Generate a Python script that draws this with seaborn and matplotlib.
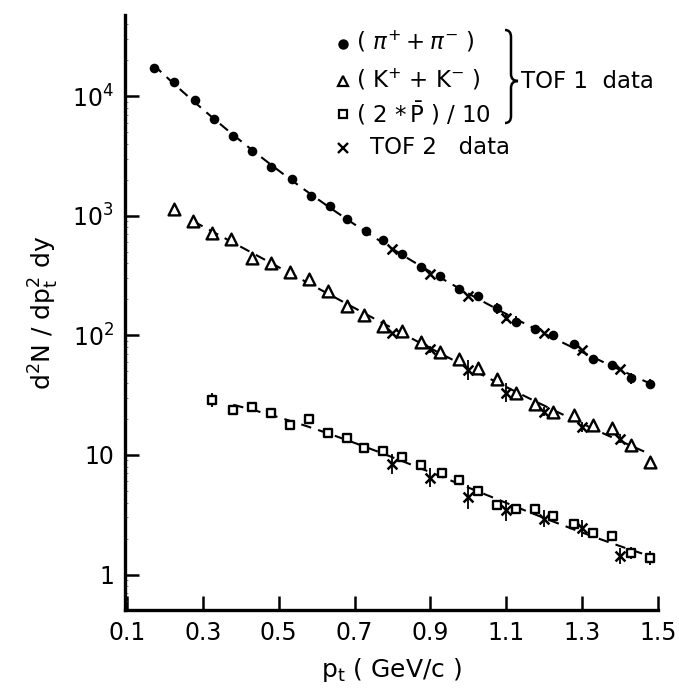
import numpy as np
import pandas as pd
import matplotlib
matplotlib.use("Agg")
import matplotlib.pyplot as plt
from matplotlib.path import Path
from matplotlib.patches import PathPatch
import seaborn as sns

# ---- TOF1 spectra ----
pion_pt = [0.17, 0.225, 0.28, 0.33, 0.38, 0.43, 0.48, 0.535, 0.585, 0.635,
           0.68, 0.73, 0.775, 0.825, 0.875, 0.925, 0.975, 1.025, 1.075, 1.125,
           1.175, 1.225, 1.28, 1.33, 1.38, 1.43, 1.48]
pion_y = [17300, 13100, 9230, 6400, 4670, 3490, 2540, 2040, 1460, 1210,
          938, 750, 626, 478, 370, 313, 243, 213, 168, 130,
          114, 101, 84, 63.4, 56.5, 43.7, 39.2]
pion_err = [0, 0, 0, 0, 0, 0, 0, 0, 0, 0,
            0, 0, 0, 0, 0, 0, 0, 0, 0.045, 0.045,
            0, 0, 0, 0, 0, 0.045, 0.045]

kaon_pt = [0.225, 0.275, 0.325, 0.375, 0.43, 0.48, 0.53, 0.58, 0.63, 0.68,
           0.725, 0.775, 0.825, 0.875, 0.925, 0.975, 1.025, 1.075, 1.125, 1.175,
           1.225, 1.28, 1.33, 1.38, 1.43, 1.48]
kaon_y = [1130, 903, 713, 639, 445, 405, 340, 296, 235, 177,
          148, 120, 109, 88.4, 72.1, 63, 53.6, 42.9, 33.1, 26.5,
          23, 21.4, 17.8, 16.9, 12.1, 8.67]
kaon_err = [0] * 24 + [0.04, 0.04]

pbar_pt = [0.325, 0.38, 0.43, 0.48, 0.53, 0.58, 0.63, 0.68, 0.725, 0.775,
           0.825, 0.875, 0.93, 0.975, 1.025, 1.075, 1.125, 1.175, 1.225, 1.28,
           1.33, 1.38, 1.43, 1.48]
pbar_y = [28.8, 23.7, 25.3, 22.3, 17.8, 20.0, 15.2, 13.8, 11.4, 10.8,
          9.66, 8.24, 7.02, 6.17, 4.99, 3.81, 3.53, 3.53, 3.10, 2.64,
          2.24, 2.10, 1.50, 1.38]
pbar_err = [0.06, 0.035, 0.035, 0.035, 0.035, 0.045, 0.035, 0.035, 0.035, 0.035,
            0.035, 0.035, 0.035, 0.035, 0.035, 0.035, 0.035, 0.035, 0.035, 0.035,
            0.035, 0.04, 0.05, 0.06]

# ---- TOF2 spectra ----
tof2_pt = [0.8, 0.9, 1.0, 1.1, 1.2, 1.3, 1.4]
tof2_pion_y = [524, 324, 213, 140, 104, 75.4, 52.3]
tof2_pion_err = [0, 0, 0, 0.03, 0, 0, 0]
tof2_kaon_y = [105, 76.4, 51.3, 33.1, 23.0, 17.2, 13.7]
tof2_kaon_err = [0, 0.03, 0.08, 0.08, 0.04, 0.04, 0.04]
tof2_pbar_y = [8.4, 6.45, 4.42, 3.44, 2.92, 2.43, 1.43]
tof2_pbar_err = [0.08, 0.08, 0.1, 0.09, 0.07, 0.07, 0.07]

x_ticks = [0.1, 0.3, 0.5, 0.7, 0.9, 1.1, 1.3, 1.5]
x_tick_labels = ["0.1", "0.3", "0.5", "0.7", "0.9", "1.1", "1.3", "1.5"]
y_ticks = [1, 10, 100, 1000, 10000]
y_tick_labels = ["1", "10", r"10$^{2}$", r"10$^{3}$", r"10$^{4}$"]

sns.set_style("ticks")
plt.rcParams["font.family"] = ["DejaVu Sans"]
plt.rcParams["mathtext.fontset"] = "dejavusans"
plt.rcParams["text.color"] = "black"
plt.rcParams["axes.labelcolor"] = "black"

W, H = 679, 699
fig = plt.figure(figsize=(W / 100, H / 100), dpi=100)
ax = fig.add_axes([125 / W, 1 - 610 / H, (657.7 - 125) / W, (610 - 15) / H])
ax.set_yscale("log")
ax.set_xlim(0.1 - (127.1 - 125) / 378, 1.5)
ax.set_ylim(0.505, 4.77e4)


def frame(pt, y, err):
    return pd.DataFrame({"pt": pt, "y": y, "err": err})


tof1 = {"pion": frame(pion_pt, pion_y, pion_err),
        "kaon": frame(kaon_pt, kaon_y, kaon_err),
        "pbar": frame(pbar_pt, pbar_y, pbar_err)}
tof2 = {"pion": frame(tof2_pt, tof2_pion_y, tof2_pion_err),
        "kaon": frame(tof2_pt, tof2_kaon_y, tof2_kaon_err),
        "pbar": frame(tof2_pt, tof2_pbar_y, tof2_pbar_err)}

# smooth fits through both data sets (cubic in log space)
fit_start = {"pion": 0.17, "kaon": 0.275, "pbar": 0.38}
for key in ["pion", "kaon", "pbar"]:
    both = pd.concat([tof1[key], tof2[key]])
    both = both[both.pt >= fit_start[key] - 1e-6]
    coef = np.polyfit(both.pt, np.log10(both.y), 3)
    xs = np.linspace(both.pt.min(), both.pt.max(), 200)
    fit = pd.DataFrame({"pt": xs, "y": 10 ** np.polyval(coef, xs)})
    sns.lineplot(data=fit, x="pt", y="y", ax=ax, color="black", lw=1.5,
                 dashes=False, linestyle=(0, (5, 3.5)), zorder=1)


def draw_err(df):
    sel = df[df.err > 0]
    lo = sel.y - sel.y * 10 ** (-sel.err)
    hi = sel.y * 10 ** (sel.err) - sel.y
    ax.errorbar(sel.pt, sel.y, yerr=[lo, hi], fmt="none", ecolor="black",
                elinewidth=1.3, capsize=0, zorder=2)


for df in list(tof1.values()) + list(tof2.values()):
    draw_err(df)

sns.scatterplot(data=tof1["pion"], x="pt", y="y", ax=ax, marker="o", s=48,
                color="black", edgecolor="black", linewidth=0, zorder=3)
sns.scatterplot(data=tof1["kaon"], x="pt", y="y", ax=ax, marker="^", s=72,
                facecolor="white", edgecolor="black", linewidth=1.7, zorder=3)
sns.scatterplot(data=tof1["pbar"], x="pt", y="y", ax=ax, marker="s", s=40,
                facecolor="white", edgecolor="black", linewidth=1.7, zorder=3)
for key in ["pion", "kaon", "pbar"]:
    sns.scatterplot(data=tof2[key], x="pt", y="y", ax=ax, marker="x", s=50,
                    color="black", linewidth=1.8, zorder=3)

ax.set_xticks(x_ticks)
ax.set_xticklabels(x_tick_labels)
ax.set_yticks(y_ticks)
ax.set_yticklabels(y_tick_labels)
ax.yaxis.set_minor_locator(matplotlib.ticker.LogLocator(base=10, subs=np.arange(2, 10)))
ax.yaxis.set_minor_formatter(matplotlib.ticker.NullFormatter())
ax.tick_params(axis="both", which="major", direction="in", length=10, width=1.8,
               labelsize=17, colors="black", pad=8)
ax.tick_params(axis="y", which="minor", direction="in", length=2.5, width=0.5,
               colors="#555555")
ax.tick_params(axis="x", which="minor", bottom=False)
sns.despine(ax=ax, top=True, right=True)
for side in ["left", "bottom"]:
    ax.spines[side].set_linewidth(2.4)
    ax.spines[side].set_color("black")

ax.set_xlabel(r"p$_{\mathsf{t}}$ ( GeV/c )", fontsize=18, labelpad=8)
ax.set_ylabel(r"d$^{2}$N / dp$_{\mathsf{t}}^{2}$ dy", fontsize=18, labelpad=8)


def px(x, y):
    return x / W, 1 - y / H


# legend block
leg_size = 16.5
fig.add_artist(plt.Line2D([343 / W], [1 - 44 / H], marker="o", ms=6.5, color="black",
                          transform=fig.transFigure))
fig.text(*px(356, 42), r"$(\ \pi^{+} + \pi^{-}\ )$", fontsize=leg_size, va="center")
fig.add_artist(plt.Line2D([343 / W], [1 - 81 / H], marker="^", ms=7.5, mfc="white",
                          mec="black", mew=1.6, transform=fig.transFigure))
fig.text(*px(356, 80), r"( K$^{+}$ + K$^{-}$ )", fontsize=leg_size, va="center")
fig.add_artist(plt.Line2D([343 / W], [1 - 114 / H], marker="s", ms=6, mfc="white",
                          mec="black", mew=1.6, transform=fig.transFigure))
fig.text(*px(356, 114), r"( 2 $*\,\bar{\mathsf{P}}$ ) / 10", fontsize=leg_size, va="center")
fig.add_artist(plt.Line2D([343 / W], [1 - 148 / H], marker="x", ms=6.5, color="black",
                          mew=1.7, transform=fig.transFigure))
fig.text(*px(370, 147), "TOF 2   data", fontsize=leg_size, va="center")
fig.text(*px(521, 81), "TOF 1  data", fontsize=leg_size, va="center")

# curly brace grouping the TOF1 entries
x0, x1, x2 = 505, 511, 518
yt, ym, yb = 30, 81, 123
verts = [(x0, yt), (x1, yt), (x1, yt + 7), (x1, ym - 7), (x1, ym), (x2, ym),
         (x1, ym), (x1, ym + 7), (x1, yb - 7), (x1, yb), (x0, yb)]
codes = [Path.MOVETO, Path.CURVE3, Path.CURVE3, Path.LINETO, Path.CURVE3, Path.CURVE3,
         Path.CURVE3, Path.CURVE3, Path.LINETO, Path.CURVE3, Path.CURVE3]
brace = Path([px(*v) for v in verts], codes)
fig.add_artist(PathPatch(brace, fill=False, lw=1.8, color="black",
                         transform=fig.transFigure))

fig.savefig("out.png", dpi=100, facecolor="white")
